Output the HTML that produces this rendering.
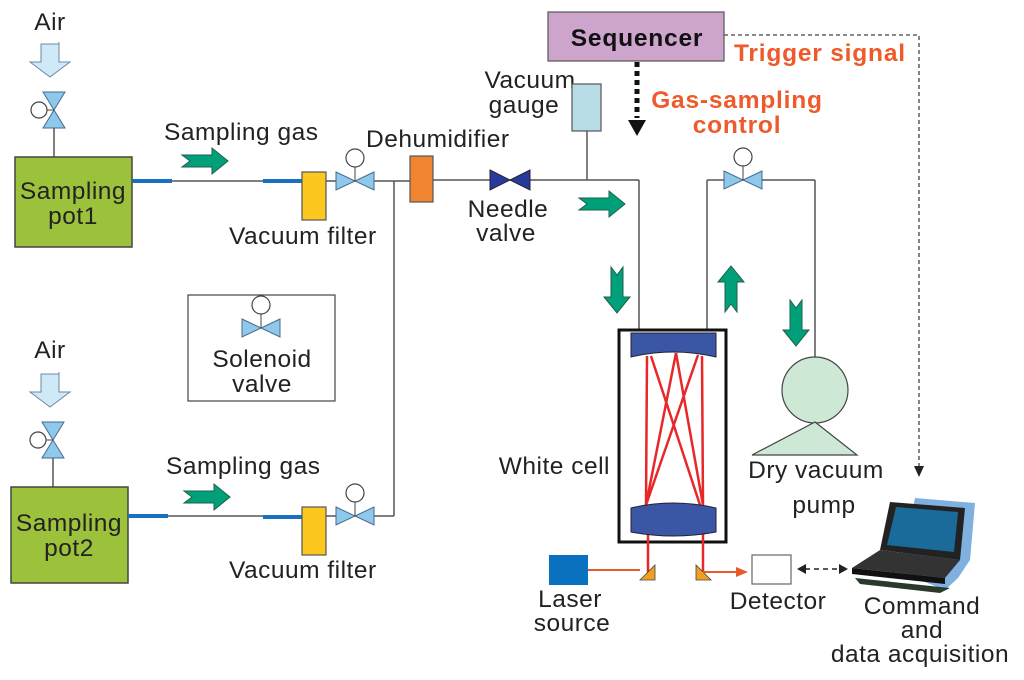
<!DOCTYPE html>
<html><head><meta charset="utf-8"><style>
html,body{margin:0;padding:0;background:#fff;}
svg{display:block;font-family:"Liberation Sans",Arial,sans-serif;}
text{font-size:24.5px;letter-spacing:0.5px;}
text.b{font-weight:bold;letter-spacing:0.8px;}
</style></head><body>
<svg width="1024" height="680" viewBox="0 0 1024 680" xmlns="http://www.w3.org/2000/svg">
<defs>
<g id="valveH"><polygon points="-19,-9 0,0 -19,9" fill="#8ec8ec" stroke="#4a6a8a" stroke-width="1"/><polygon points="19,-9 0,0 19,9" fill="#8ec8ec" stroke="#4a6a8a" stroke-width="1"/><line x1="0" y1="0" x2="0" y2="-14" stroke="#444"/><circle cx="0" cy="-23" r="9" fill="#fff" stroke="#444" stroke-width="1.2"/></g>
<g id="valveV"><polygon points="-11,-18 0,0 11,-18" fill="#8ec8ec" stroke="#4a6a8a" stroke-width="1"/><polygon points="-11,18 0,0 11,18" fill="#8ec8ec" stroke="#4a6a8a" stroke-width="1"/><line x1="0" y1="0" x2="-7" y2="0" stroke="#444"/><circle cx="-15" cy="0" r="8" fill="#fff" stroke="#444" stroke-width="1.2"/></g>
<g id="airArrow"><polygon points="-9,0 9,0 9,-2 9,18 20,18 0,33 -20,18 -9,18" fill="#cfe9f6" stroke="#6a8aa8" stroke-width="1"/></g>
<g id="grR"><polygon points="0,-6 30,-6 30,-13 46,0 30,13 30,6 0,6 8,0" fill="#00a07a" stroke="#1f5f4a" stroke-width="1"/></g>
</defs>

<text x="50" y="30" text-anchor="middle" fill="#222">Air</text>
<use href="#airArrow" x="50" y="44"/>
<use href="#valveV" x="54" y="110"/>
<line x1="54" y1="128" x2="54" y2="157" stroke="#555" stroke-width="1.5"/>
<rect x="15" y="157" width="117" height="90" fill="#9cc23c" stroke="#444" stroke-width="1.5"/>
<text x="73" y="199" text-anchor="middle" fill="#222">Sampling</text>
<text x="73" y="224" text-anchor="middle" fill="#222">pot1</text>
<line x1="132" y1="181" x2="302" y2="181" stroke="#555" stroke-width="1.5"/>
<line x1="132" y1="181" x2="172" y2="181" stroke="#1a70c0" stroke-width="4"/>
<line x1="263" y1="181" x2="302" y2="181" stroke="#1a70c0" stroke-width="4"/>
<text x="164" y="140" fill="#222">Sampling gas</text>
<use href="#grR" x="182" y="161"/>
<rect x="302" y="172" width="24" height="48" fill="#fcc820" stroke="#555" stroke-width="1.2"/>
<line x1="326" y1="181" x2="410" y2="181" stroke="#555" stroke-width="1.5"/>
<use href="#valveH" x="355" y="181"/>
<text x="229" y="244" fill="#222">Vacuum filter</text>

<text x="50" y="358" text-anchor="middle" fill="#222">Air</text>
<use href="#airArrow" x="50" y="374"/>
<use href="#valveV" x="53" y="440"/>
<line x1="53" y1="458" x2="53" y2="487" stroke="#555" stroke-width="1.5"/>
<rect x="11" y="487" width="117" height="96" fill="#9cc23c" stroke="#444" stroke-width="1.5"/>
<text x="69" y="531" text-anchor="middle" fill="#222">Sampling</text>
<text x="69" y="556" text-anchor="middle" fill="#222">pot2</text>
<line x1="128" y1="516" x2="302" y2="516" stroke="#555" stroke-width="1.5"/>
<line x1="128" y1="516" x2="168" y2="516" stroke="#1a70c0" stroke-width="4"/>
<line x1="263" y1="517" x2="302" y2="517" stroke="#1a70c0" stroke-width="4"/>
<text x="166" y="474" fill="#222">Sampling gas</text>
<use href="#grR" x="184" y="497"/>
<rect x="302" y="507" width="24" height="48" fill="#fcc820" stroke="#555" stroke-width="1.2"/>
<line x1="326" y1="516" x2="394" y2="516" stroke="#555" stroke-width="1.5"/>
<use href="#valveH" x="355" y="516"/>
<text x="229" y="578" fill="#222">Vacuum filter</text>
<line x1="394" y1="181" x2="394" y2="516" stroke="#555" stroke-width="1.5"/>

<rect x="188" y="295" width="147" height="106" fill="#fff" stroke="#444" stroke-width="1.2"/>
<use href="#valveH" x="261" y="328"/>
<text x="262" y="367" text-anchor="middle" fill="#222">Solenoid</text>
<text x="262" y="392" text-anchor="middle" fill="#222">valve</text>

<text x="366" y="147" fill="#222">Dehumidifier</text>
<rect x="410" y="156" width="23" height="46" fill="#f08430" stroke="#555" stroke-width="1.2"/>
<line x1="433" y1="180" x2="639" y2="180" stroke="#555" stroke-width="1.5"/>
<polygon points="490,170 510,180 490,190" fill="#2a3a9a" stroke="#223" stroke-width="1"/>
<polygon points="530,170 510,180 530,190" fill="#2a3a9a" stroke="#223" stroke-width="1"/>
<text x="508" y="217" text-anchor="middle" fill="#222">Needle</text>
<text x="506" y="241" text-anchor="middle" fill="#222">valve</text>
<text x="530" y="88" text-anchor="middle" fill="#222">Vacuum</text>
<text x="524" y="113" text-anchor="middle" fill="#222">gauge</text>
<rect x="572" y="84" width="29" height="47" fill="#b8dce6" stroke="#555" stroke-width="1.2"/>
<line x1="587" y1="131" x2="587" y2="180" stroke="#555" stroke-width="1.5"/>
<line x1="639" y1="180" x2="639" y2="331" stroke="#555" stroke-width="1.5"/>
<use href="#grR" x="579" y="204"/>
<use href="#grR" transform="translate(617,267) rotate(90)"/>
<use href="#grR" transform="translate(731,312) rotate(-90)"/>
<use href="#grR" transform="translate(796,300) rotate(90)"/>

<line x1="707" y1="331" x2="707" y2="180" stroke="#555" stroke-width="1.5"/>
<line x1="707" y1="180" x2="815" y2="180" stroke="#555" stroke-width="1.5"/>
<line x1="815" y1="180" x2="815" y2="360" stroke="#555" stroke-width="1.5"/>
<use href="#valveH" x="743" y="180"/>
<circle cx="815" cy="390" r="33" fill="#cde9d6" stroke="#444" stroke-width="1.2"/>
<polygon points="815,422 752,455 857,455" fill="#cde9d6" stroke="#444" stroke-width="1.2"/>
<text x="816" y="478" text-anchor="middle" fill="#222">Dry vacuum</text>
<text x="824" y="513" text-anchor="middle" fill="#222">pump</text>

<rect x="619" y="330" width="107" height="212" fill="#fff" stroke="#111" stroke-width="3"/>
<g stroke="#e82828" stroke-width="2.5" fill="none">
<line x1="647" y1="356" x2="646" y2="505"/>
<line x1="651" y1="356" x2="700" y2="505"/>
<line x1="676" y1="353" x2="646" y2="505"/>
<line x1="676" y1="353" x2="703" y2="505"/>
<line x1="698" y1="355" x2="646" y2="505"/>
<line x1="702" y1="356" x2="703" y2="505"/>
<line x1="648" y1="530" x2="648" y2="578"/>
<line x1="703" y1="530" x2="703" y2="578"/>
</g>
<path d="M631,333 L716,333 L716,357 Q673,347 631,357 Z" fill="#3a56a4" stroke="#223" stroke-width="1"/>
<path d="M631,508 Q673,498 716,508 L716,532 Q673,540 631,532 Z" fill="#3a56a4" stroke="#223" stroke-width="1"/>
<text x="610" y="474" text-anchor="end" fill="#222">White cell</text>

<rect x="549" y="555" width="39" height="30" fill="#0a70c0"/>
<line x1="588" y1="570" x2="640" y2="570" stroke="#e85a2a" stroke-width="2"/>
<polygon points="640,580 655,565 655,580" fill="#f0a020" stroke="#444" stroke-width="0.8"/>
<polygon points="696,565 696,580 711,580" fill="#f0a020" stroke="#444" stroke-width="0.8"/>
<line x1="703" y1="572" x2="738" y2="572" stroke="#e85a2a" stroke-width="2"/>
<polygon points="736,567 748,572 736,577" fill="#e85a2a"/>
<rect x="752" y="555" width="39" height="29" fill="#fff" stroke="#666" stroke-width="1.2"/>
<text x="570" y="607" text-anchor="middle" fill="#222">Laser</text>
<text x="572" y="631" text-anchor="middle" fill="#222">source</text>
<text x="778" y="609" text-anchor="middle" fill="#222">Detector</text>
<line x1="805" y1="569" x2="840" y2="569" stroke="#222" stroke-width="1.5" stroke-dasharray="5,4"/>
<polygon points="797,569 806,564 806,574" fill="#222"/>
<polygon points="848,569 839,564 839,574" fill="#222"/>

<polygon points="915,498 975,503 970,560 958,578 945,590 900,572" fill="#7fb0e0"/>
<polygon points="890,502 965,508 960,560 880,550" fill="#222"/>
<polygon points="896,507 958,512 954,552 887,545" fill="#1a6a9a"/>
<polygon points="880,550 960,560 945,578 852,568" fill="#333"/>
<polygon points="852,568 945,578 945,584 852,574" fill="#111"/>
<polygon points="855,578 950,588 940,593 860,584" fill="#2a3a2a"/>
<text x="922" y="614" text-anchor="middle" fill="#222">Command</text>
<text x="922" y="638" text-anchor="middle" fill="#222">and</text>
<text x="920" y="662" text-anchor="middle" fill="#222">data acquisition</text>

<rect x="548" y="12" width="176" height="49" fill="#cca4cc" stroke="#555" stroke-width="1.2"/>
<text class="b" x="637" y="46" text-anchor="middle" fill="#111">Sequencer</text>
<polyline points="724,35 919,35 919,466" fill="none" stroke="#444" stroke-width="1.3" stroke-dasharray="4,3"/>
<polygon points="914,466 924,466 919,477" fill="#222"/>
<line x1="637" y1="62" x2="637" y2="118" stroke="#111" stroke-width="5" stroke-dasharray="5,4"/>
<polygon points="628,120 646,120 637,136" fill="#111"/>
<text class="b" x="734" y="61" fill="#ee5a2a">Trigger signal</text>
<text class="b" x="737" y="108" text-anchor="middle" fill="#ee5a2a">Gas-sampling</text>
<text class="b" x="737" y="133" text-anchor="middle" fill="#ee5a2a">control</text>
</svg>
</body></html>
